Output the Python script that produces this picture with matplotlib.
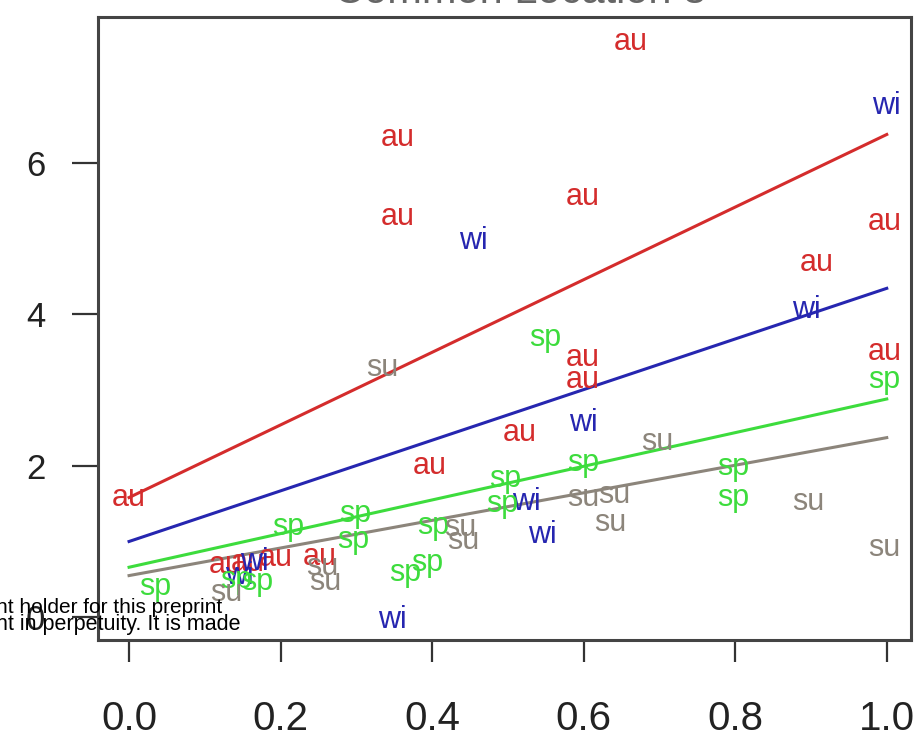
import matplotlib
matplotlib.use("Agg")
import matplotlib.pyplot as plt

plt.rcParams['font.family'] = ['Liberation Sans', 'DejaVu Sans']

# values, one list per season
au_x = [0.662, 0.354, 0.355, 0.599, 0.997, 0.907, 0.997, 0.599, 0.599, 0.516, 0.397, 0.0,
        0.128, 0.157, 0.193, 0.252]
au_y = [7.59, 6.32, 5.28, 5.54, 5.21, 4.68, 3.50, 3.42, 3.13, 2.43, 2.00, 1.58,
        0.69, 0.71, 0.78, 0.79]

wi_x = [1.0, 0.454, 0.894, 0.599, 0.525, 0.546, 0.348, 0.146, 0.166]
wi_y = [6.75, 4.97, 4.05, 2.56, 1.52, 1.08, -0.04, 0.55, 0.73]

sp_x = [0.549, 0.997, 0.599, 0.797, 0.797, 0.496, 0.493, 0.21, 0.298, 0.296, 0.401,
        0.394, 0.364, 0.034, 0.141, 0.169]
sp_y = [3.68, 3.13, 2.04, 1.98, 1.57, 1.83, 1.50, 1.19, 1.36, 1.02, 1.21,
        0.71, 0.58, 0.40, 0.49, 0.46]

su_x = [0.334, 0.697, 0.896, 0.997, 0.599, 0.641, 0.635, 0.437, 0.441, 0.255, 0.259, 0.128]
su_y = [3.29, 2.31, 1.52, 0.92, 1.58, 1.61, 1.25, 1.18, 1.01, 0.66, 0.46, 0.32]

# fitted lines, value at x = 0 and x = 1
fit_x = [0.0, 1.0]
au_fit = [1.58, 6.37]
wi_fit = [1.00, 4.34]
sp_fit = [0.66, 2.88]
su_fit = [0.55, 2.37]

x_ticks = [0.0, 0.2, 0.4, 0.6, 0.8, 1.0]
y_ticks = [0, 2, 4, 6]

seasons = [
    ('au', au_x, au_y, au_fit, '#d42c2c'),
    ('wi', wi_x, wi_y, wi_fit, '#2626b0'),
    ('sp', sp_x, sp_y, sp_fit, '#3ddc3d'),
    ('su', su_x, su_y, su_fit, '#8c857b'),
]

W, H = 921, 743
fig = plt.figure(figsize=(W / 100, H / 100), dpi=100)
ax = fig.add_axes([98 / W, 1 - 640 / H, (911 - 98) / W, (640 - 17) / H])

for name, xs, ys, fit, col in seasons:
    ax.plot(fit_x, fit, color=col, lw=2.2, zorder=2)
    for x, y in zip(xs, ys):
        ax.text(x, y, name, color=col, fontsize=22, ha='center', va='center',
                zorder=3)

ax.set_xlim(-0.041, 1.032)
ax.set_ylim(-0.30, 7.92)
ax.set_xticks(x_ticks)
ax.set_xticklabels(['%.1f' % t for t in x_ticks])
ax.set_yticks(y_ticks)
ax.set_yticklabels([str(t) for t in y_ticks])
ax.tick_params(axis='x', length=16, width=1.6, color='#333333', pad=27,
               labelsize=29, labelcolor='#222222')
ax.tick_params(axis='y', length=19, width=1.6, color='#333333', pad=19,
               labelsize=25, labelcolor='#222222')
for sp in ax.spines.values():
    sp.set_linewidth(2.2)
    sp.set_color('#444444')

# title, mostly cut off at the top edge
fig.text(0.565, 1 - 3 / H, 'Common Location 3', ha='center', va='baseline',
         fontsize=30, color='#666666')

# bioRxiv watermark fragment
fig.text(-0.004, 1 - 613 / H, 'nt holder for this preprint', ha='left',
         va='baseline', fontsize=15, color='black', zorder=10)
fig.text(-0.004, 1 - 630 / H, 'nt in perpetuity. It is made', ha='left',
         va='baseline', fontsize=15.5, color='black', zorder=10)

fig.savefig('out.png', dpi=100)
